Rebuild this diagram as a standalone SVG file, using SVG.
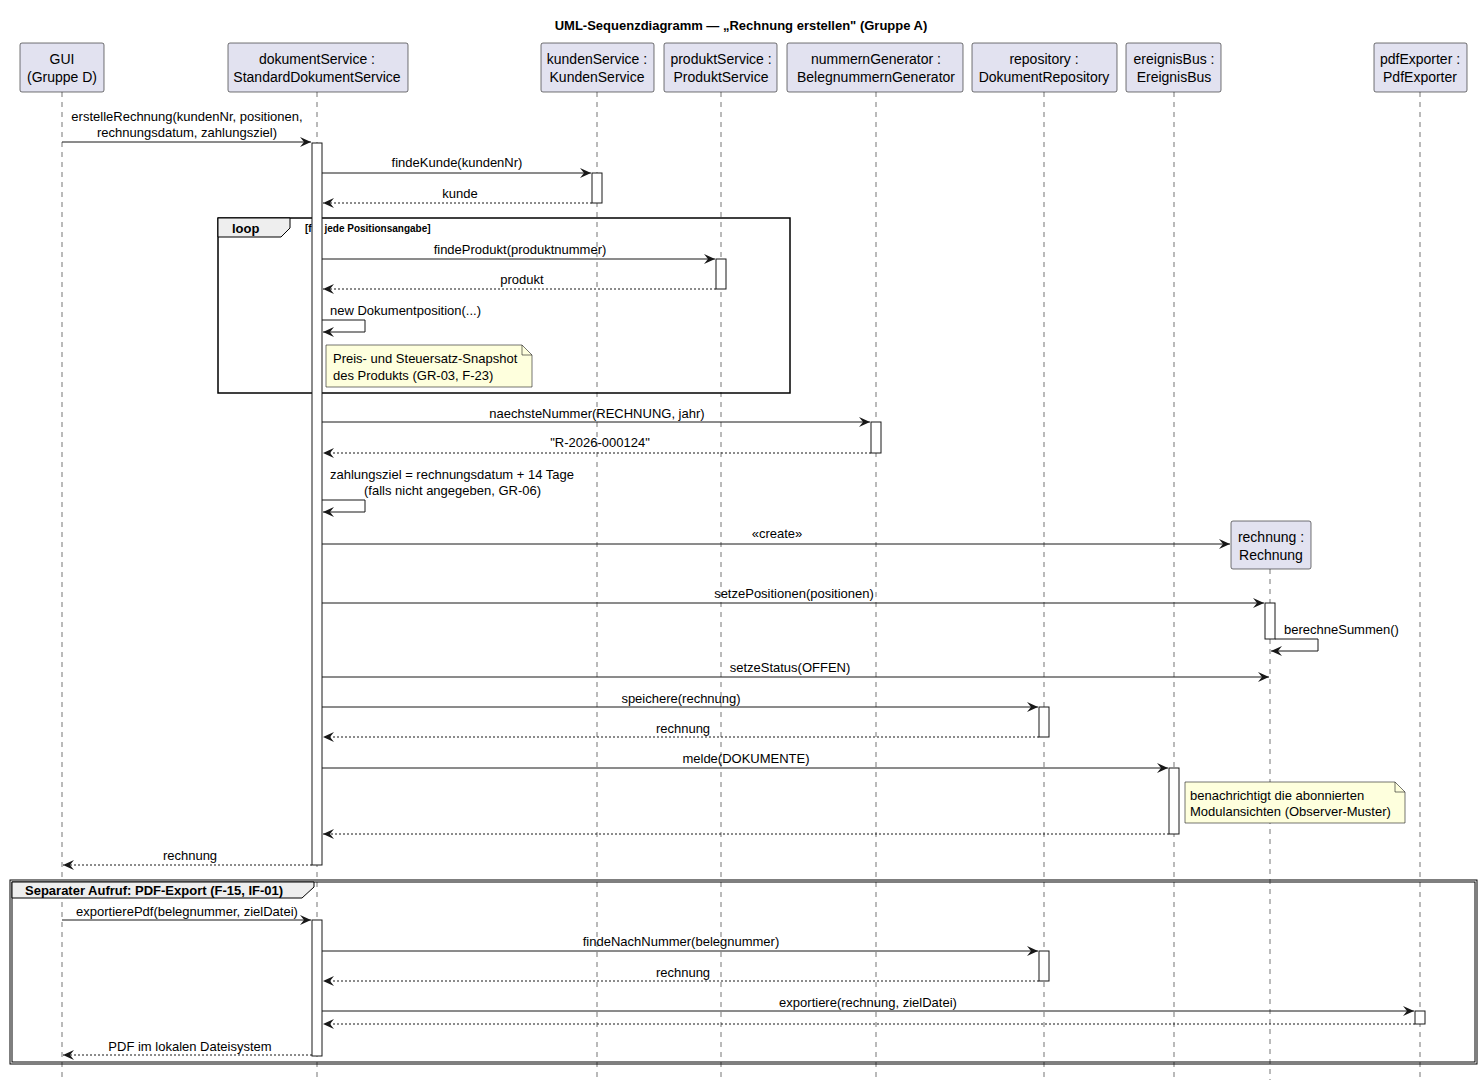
<svg xmlns="http://www.w3.org/2000/svg" width="1482" height="1087" viewBox="0 0 1482 1087">
<defs>
<style>
text{font-family:"Liberation Sans",Arial,sans-serif;font-size:13px;fill:#000}
.c{text-anchor:middle}
.p rect{fill:#E2E2F0;stroke:#181818;stroke-width:0.6}
.p text{font-size:14px;text-anchor:middle}
.ll{stroke:#181818;stroke-width:0.6;stroke-dasharray:5,5}
.act{fill:#fff;stroke:#181818;stroke-width:1}
.m{stroke:#181818;stroke-width:1;fill:none;marker-end:url(#ah)}
.r{stroke:#181818;stroke-width:1;fill:none;stroke-dasharray:2,2;marker-end:url(#ah)}
.note{fill:#FEFFDD;stroke:#181818;stroke-width:0.6}
.b{font-weight:bold}
</style>
<marker id="ah" viewBox="0 0 12 10" refX="11" refY="5" markerWidth="12" markerHeight="10" markerUnits="userSpaceOnUse" orient="auto"><path d="M0,0 L11,5 L0,10 L4,5 Z" fill="#181818"/></marker>
</defs>
<rect width="1482" height="1087" fill="#fff"/>
<text class="c b" x="741" y="30">UML-Sequenzdiagramm — „Rechnung erstellen" (Gruppe A)</text>
<g id="lifelines">
<line class="ll" x1="62" y1="92" x2="62" y2="1080"/>
<line class="ll" x1="317" y1="92" x2="317" y2="1080"/>
<line class="ll" x1="597" y1="92" x2="597" y2="1080"/>
<line class="ll" x1="721" y1="92" x2="721" y2="1080"/>
<line class="ll" x1="876" y1="92" x2="876" y2="1080"/>
<line class="ll" x1="1044" y1="92" x2="1044" y2="1080"/>
<line class="ll" x1="1174" y1="92" x2="1174" y2="1080"/>
<line class="ll" x1="1270" y1="569" x2="1270" y2="1080"/>
<line class="ll" x1="1420" y1="92" x2="1420" y2="1080"/>
</g>
<g id="gui" class="p"><rect x="20" y="43" width="84" height="49" rx="2"/><text x="62" y="64">GUI</text><text x="62" y="82">(Gruppe D)</text></g>
<g id="dokumentService" class="p"><rect x="228" y="43" width="180" height="49" rx="2"/><text x="317" y="64">dokumentService :</text><text x="317" y="82">StandardDokumentService</text></g>
<g id="kundenService" class="p"><rect x="541" y="43" width="113" height="49" rx="2"/><text x="597" y="64">kundenService :</text><text x="597" y="82">KundenService</text></g>
<g id="produktService" class="p"><rect x="664" y="43" width="113" height="49" rx="2"/><text x="721" y="64">produktService :</text><text x="721" y="82">ProduktService</text></g>
<g id="nummernGenerator" class="p"><rect x="787" y="43" width="176" height="49" rx="2"/><text x="876" y="64">nummernGenerator :</text><text x="876" y="82">BelegnummernGenerator</text></g>
<g id="repository" class="p"><rect x="972" y="43" width="145" height="49" rx="2"/><text x="1044" y="64">repository :</text><text x="1044" y="82">DokumentRepository</text></g>
<g id="ereignisBus" class="p"><rect x="1126" y="43" width="95" height="49" rx="2"/><text x="1174" y="64">ereignisBus :</text><text x="1174" y="82">EreignisBus</text></g>
<g id="rechnung" class="p"><rect x="1231" y="521" width="80" height="48" rx="2"/><text x="1271" y="542">rechnung :</text><text x="1271" y="560">Rechnung</text></g>
<g id="pdfExporter" class="p"><rect x="1374" y="43" width="93" height="49" rx="2"/><text x="1420" y="64">pdfExporter :</text><text x="1420" y="82">PdfExporter</text></g>
<g id="frames">
<rect x="218" y="218" width="572" height="175" fill="none" stroke="#000" stroke-width="1.5"/>
<path d="M218,218 H290 V228 L281,237 H218 Z" fill="#EEEEEE" stroke="#000" stroke-width="1"/>
<text x="232" y="233" class="b">loop</text>
<text x="305" y="232" class="b" style="font-size:10px">[für jede Positionsangabe]</text>
<rect x="10" y="880" width="1467" height="184" fill="none" stroke="#000" stroke-width="1"/>
<rect x="12" y="882" width="1463" height="180" fill="none" stroke="#000" stroke-width="1"/>
<path d="M12,882 H314 V887 L302,898 H12 Z" fill="#EEEEEE" stroke="#000" stroke-width="1"/>
<text x="25" y="895" class="b">Separater Aufruf: PDF-Export (F-15, IF-01)</text>
</g>
<g id="activations">
<rect class="act" x="312" y="143" width="10" height="722"/>
<rect class="act" x="312" y="920" width="10" height="136"/>
<rect class="act" x="592" y="173" width="10" height="30"/>
<rect class="act" x="716" y="259" width="10" height="30"/>
<rect class="act" x="871" y="422" width="10" height="31"/>
<rect class="act" x="1265" y="603" width="10" height="36"/>
<rect class="act" x="1039" y="707" width="10" height="30"/>
<rect class="act" x="1039" y="951" width="10" height="30"/>
<rect class="act" x="1169" y="768" width="10" height="66"/>
<rect class="act" x="1415" y="1011" width="10" height="13"/>
</g>
<g id="notes">
<path class="note" d="M326,345 H522 L532,355 V387 H326 Z"/><path d="M522,345 V355 H532" fill="none" stroke="#181818" stroke-width="0.6"/>
<text x="333" y="363">Preis- und Steuersatz-Snapshot</text><text x="333" y="380">des Produkts (GR-03, F-23)</text>
<path class="note" d="M1185,782 H1395 L1405,792 V823 H1185 Z"/><path d="M1395,782 V792 H1405" fill="none" stroke="#181818" stroke-width="0.6"/>
<text x="1190" y="800">benachrichtigt die abonnierten</text><text x="1190" y="816">Modulansichten (Observer-Muster)</text>
</g>
<g id="connectors">
<line class="m" x1="62" y1="142" x2="311" y2="142"/>
<text class="c" x="187" y="121">erstelleRechnung(kundenNr, positionen,</text><text class="c" x="187" y="137">rechnungsdatum, zahlungsziel)</text>
<line class="m" x1="322" y1="173" x2="591" y2="173"/><text class="c" x="457" y="167">findeKunde(kundenNr)</text>
<line class="r" x1="592" y1="203" x2="323" y2="203"/><text class="c" x="460" y="198">kunde</text>
<line class="m" x1="322" y1="259" x2="715" y2="259"/><text class="c" x="520" y="254">findeProdukt(produktnummer)</text>
<line class="r" x1="716" y1="289" x2="323" y2="289"/><text class="c" x="522" y="284">produkt</text>
<path class="m" d="M322,320 H365 V332 H323"/><text x="330" y="315">new Dokumentposition(...)</text>
<line class="m" x1="322" y1="422" x2="870" y2="422"/><text class="c" x="597" y="418">naechsteNummer(RECHNUNG, jahr)</text>
<line class="r" x1="871" y1="453" x2="323" y2="453"/><text class="c" x="600" y="447">"R-2026-000124"</text>
<path class="m" d="M322,500 H365 V512 H323"/><text x="330" y="479">zahlungsziel = rechnungsdatum + 14 Tage</text><text x="364" y="495">(falls nicht angegeben, GR-06)</text>
<line class="m" x1="322" y1="544" x2="1230" y2="544"/><text class="c" x="777" y="538">«create»</text>
<line class="m" x1="322" y1="603" x2="1264" y2="603"/><text class="c" x="794" y="598">setzePositionen(positionen)</text>
<path class="m" d="M1275,639 H1318 V651 H1271"/><text x="1284" y="634">berechneSummen()</text>
<line class="m" x1="322" y1="677" x2="1269" y2="677"/><text class="c" x="790" y="672">setzeStatus(OFFEN)</text>
<line class="m" x1="322" y1="707" x2="1038" y2="707"/><text class="c" x="681" y="703">speichere(rechnung)</text>
<line class="r" x1="1039" y1="737" x2="323" y2="737"/><text class="c" x="683" y="733">rechnung</text>
<line class="m" x1="322" y1="768" x2="1168" y2="768"/><text class="c" x="746" y="763">melde(DOKUMENTE)</text>
<line class="r" x1="1169" y1="834" x2="323" y2="834"/>
<line class="r" x1="312" y1="865" x2="63" y2="865"/><text class="c" x="190" y="860">rechnung</text>
<line class="m" x1="62" y1="920" x2="311" y2="920"/><text class="c" x="187" y="916">exportierePdf(belegnummer, zielDatei)</text>
<line class="m" x1="322" y1="951" x2="1038" y2="951"/><text class="c" x="681" y="946">findeNachNummer(belegnummer)</text>
<line class="r" x1="1039" y1="981" x2="323" y2="981"/><text class="c" x="683" y="977">rechnung</text>
<line class="m" x1="322" y1="1011" x2="1414" y2="1011"/><text class="c" x="868" y="1007">exportiere(rechnung, zielDatei)</text>
<line class="r" x1="1415" y1="1024" x2="323" y2="1024"/>
<line class="r" x1="312" y1="1055" x2="63" y2="1055"/><text class="c" x="190" y="1051">PDF im lokalen Dateisystem</text>
</g>
</svg>
